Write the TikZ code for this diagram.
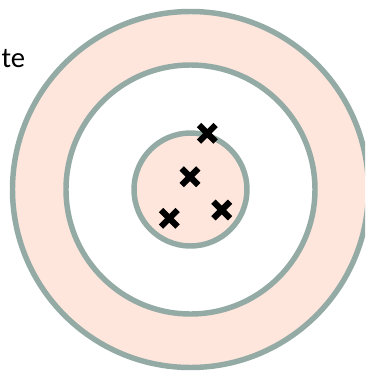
\documentclass[tikz,border=0pt]{standalone}
\usepackage{fontspec}
\setmainfont{Carlito}
\definecolor{ringline}{RGB}{148,171,165}
\definecolor{peach}{RGB}{254,230,221}
\tikzset{
  ring/.style={draw=ringline, line width=4.1pt},
  crossmark/.style={draw=black, line width=4.6pt},
}
\begin{document}
\begin{tikzpicture}[x=0.75pt,y=-0.75pt]
\useasboundingbox (0,0) rectangle (365,372);
\clip (0,0) rectangle (365,372);
\coordinate (c) at (190.5,189.5);
\draw[ring, fill=peach] (c) circle[radius=178];
\draw[ring, fill=white] (c) circle[radius=124.5];
\draw[ring, fill=peach] (c) circle[radius=56.5];
\foreach \n/\px/\py in {a/207.3/133.3, b/190/176.7, c2/169.3/218.3, d/221.7/210}{
  \coordinate (\n) at (\px,\py);
  \draw[crossmark] ([shift={(-8.3,-8.3)}]\n) -- ([shift={(8.3,8.3)}]\n);
  \draw[crossmark] ([shift={(-8.3,8.3)}]\n) -- ([shift={(8.3,-8.3)}]\n);
}
\node[anchor=base east, inner sep=0pt, font=\fontsize{21.5}{24}\selectfont] (lbl) at (25.5,67.7) {te};
\end{tikzpicture}
\end{document}
